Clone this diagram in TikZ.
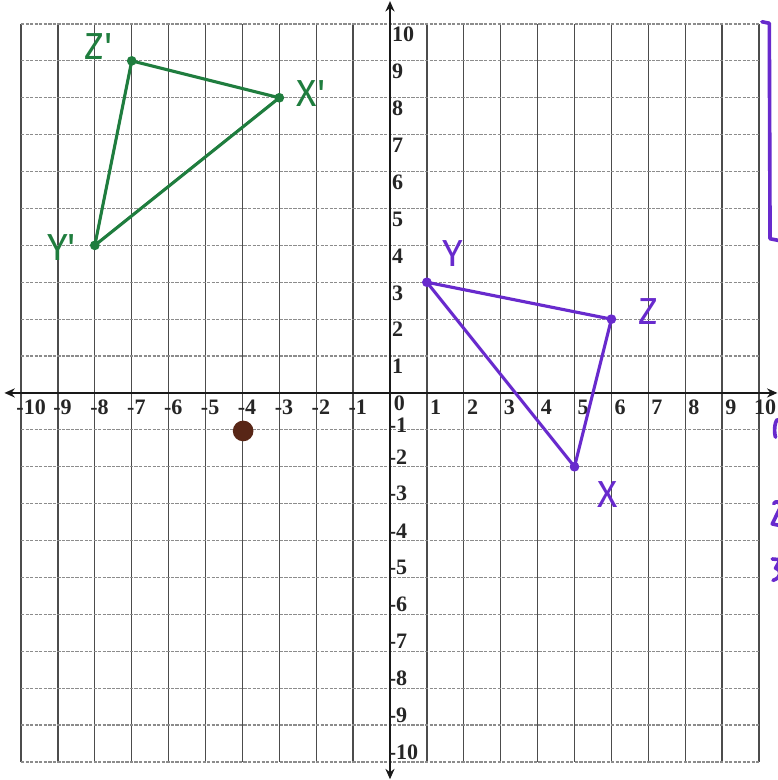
\documentclass[tikz,border=0pt]{standalone}
\usepackage{fontspec}
\setmainfont{Liberation Serif}
\newfontfamily\handfont{Fira Sans}
\usetikzlibrary{arrows.meta}
\definecolor{penGreen}{RGB}{31,125,62}
\definecolor{penPurple}{RGB}{104,42,205}
\definecolor{inkBrown}{RGB}{88,38,22}
\begin{document}
\begin{tikzpicture}[
  vgrid/.style={black!70, line width=1pt},
  hgrid/.style={black!45, line width=0.9pt, dash pattern=on 2.5pt off 1pt},
  axisline/.style={black!90, line width=2.2pt, {Stealth[length=8pt,width=7pt]}-{Stealth[length=8pt,width=7pt]}},
  ticklab/.style={font=\fontsize{17}{17}\selectfont\bfseries, inner sep=0pt, text=black!85},
  greenedge/.style={penGreen, line width=2.4pt, line join=round},
  purpleedge/.style={penPurple, line width=2.4pt, line join=round, line cap=round},
  vtx/.style={circle, fill=#1, inner sep=0pt, minimum size=7.5pt},
  hand/.style={font=\handfont\fontsize{29}{29}\selectfont, inner sep=0pt, text=#1},
]
\useasboundingbox (-10.57,-10.49) rectangle (10.51,10.65);
\fill[white] (-10.57,-10.49) rectangle (10.51,10.65);
% grid
\foreach \i in {-10,...,10} { \draw[vgrid] (\i,-10) -- (\i,10); }
\foreach \j in {-10,...,10} { \draw[hgrid] (-10,\j) -- (10,\j); }
% axes
\coordinate (xl) at (-10.45,0);
\coordinate (xr) at (10.5,0);
\coordinate (yt) at (0,10.62);
\coordinate (yb) at (0,-10.47);
\draw[axisline] (xl) -- (xr);
\draw[axisline] (yb) -- (yt);
% x tick labels
\foreach \i in {-10,...,-1} { \node[ticklab, anchor=north west] (tx\i) at (\i-0.13,-0.19) {\i}; }
\node[ticklab, anchor=north west] (tx0) at (0.1,-0.08) {0};
\foreach \i in {1,...,9} { \node[ticklab, anchor=north west] (tx\i) at (\i+0.08,-0.19) {\i}; }
\node[ticklab, anchor=north west] (tx10) at (9.86,-0.19) {10};
% y tick labels
\foreach \j in {1,...,10} { \node[ticklab, anchor=north west] (ty\j) at (0.05,\j-0.08) {\j}; }
\node[ticklab, anchor=south west] (ty-1) at (-0.04,-1-0.09) {-1};
\foreach \j in {-10,...,-2} { \node[ticklab, anchor=south west] (ty\j) at (-0.04,\j+0.06) {\j}; }
% green triangle
\node[vtx=penGreen] (Zp) at (-7,9) {};
\node[vtx=penGreen] (Xp) at (-3,8) {};
\node[vtx=penGreen] (Yp) at (-8,4) {};
\draw[greenedge] (Zp.center) -- (Xp.center) -- (Yp.center) -- cycle;
\node[hand=penGreen] (lZp) at (-7.9,9.38) {Z\textquotesingle};
\node[hand=penGreen] (lXp) at (-2.14,8.12) {X\textquotesingle};
\node[hand=penGreen] (lYp) at (-8.9,3.95) {Y\textquotesingle};
% purple triangle
\node[vtx=penPurple] (Y) at (1,3) {};
\node[vtx=penPurple] (Z) at (6,2) {};
\node[vtx=penPurple] (X) at (5,-2) {};
\draw[purpleedge] (Y.center) -- (Z.center) -- (X.center) -- cycle;
\node[hand=penPurple] (lY) at (1.71,3.79) {Y};
\node[hand=penPurple] (lZ) at (7.0,2.2) {Z};
\node[hand=penPurple] (lX) at (5.9,-2.74) {X};
% brown dot
\node[circle, fill=inkBrown, minimum size=0.56cm, inner sep=0pt] (dot) at (-3.98,-1.03) {};
% purple bracket and cut-off marks at the right edge
\draw[purpleedge, line width=2.8pt] (10.08,10.06) -- (10.28,10.02) -- (10.3,4.18) -- (10.6,4.12);
\draw[purpleedge, line width=2.8pt] (10.5,-0.72) .. controls (10.41,-0.8) and (10.41,-1.1) .. (10.45,-1.2);
\draw[purpleedge, line width=2.8pt] (10.40,-3.0) .. controls (10.45,-2.9) and (10.6,-2.95) .. (10.58,-3.1) -- (10.36,-3.55) -- (10.6,-3.6);
\draw[purpleedge, line width=2.8pt] (10.36,-4.5) -- (10.58,-4.52) -- (10.45,-4.75) .. controls (10.62,-4.8) and (10.62,-5.0) .. (10.38,-5.08);
\end{tikzpicture}
\end{document}
